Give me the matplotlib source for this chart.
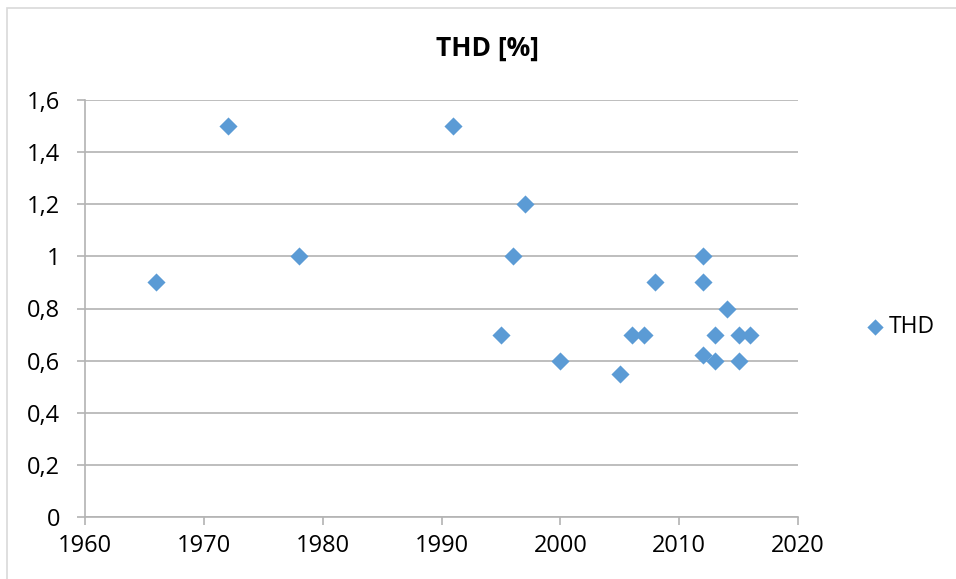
import matplotlib.pyplot as plt
from matplotlib.patches import Rectangle
from matplotlib.ticker import FuncFormatter

YEARS = [1966, 1972, 1978, 1991, 1995, 1996, 1997, 2000, 2005, 2006, 2007,
         2008, 2012, 2012, 2012, 2013, 2013, 2014, 2015, 2015, 2016]
THD   = [0.9, 1.5, 1.0, 1.5, 0.7, 1.0, 1.2, 0.6, 0.55, 0.7, 0.7,
         0.9, 1.0, 0.9, 0.62, 0.7, 0.6, 0.8, 0.7, 0.6, 0.7]
X_TICKS = [1960, 1970, 1980, 1990, 2000, 2010, 2020]
Y_TICKS = [0, 0.2, 0.4, 0.6, 0.8, 1.0, 1.2, 1.4, 1.6]

BLUE = "#5B9BD5"
GRID = "#B3B3B3"
plt.rcParams["font.family"] = ["Open Sans", "DejaVu Sans"]

fig = plt.figure(figsize=(9.56, 5.79), dpi=100)
fig.patches.append(Rectangle((7 / 956, -0.1), 1.2, 1 - 8 / 579 + 0.1,
                             transform=fig.transFigure, fill=False,
                             edgecolor="#D9D9D9", linewidth=1.2))

ax = fig.add_axes([85 / 956, 1 - 517 / 579, (798 - 85) / 956, (517 - 100) / 579])
ax.scatter(YEARS, THD, marker="D", s=85, color=BLUE, zorder=3, label="THD",
           linewidths=0)

ax.set_xlim(1960, 2020)
ax.set_ylim(0, 1.6)
ax.set_xticks(X_TICKS)
ax.set_yticks(Y_TICKS)
ax.yaxis.set_major_formatter(FuncFormatter(lambda v, _: f"{v:g}".replace(".", ",")))
ax.grid(axis="y", color=GRID, linewidth=1.2)
ax.set_axisbelow(True)
for side in ["top", "right"]:
    ax.spines[side].set_visible(False)
for side in ["left", "bottom"]:
    ax.spines[side].set_color(GRID)
    ax.spines[side].set_linewidth(1.2)
ax.tick_params(axis="both", length=6, width=1.2, color=GRID, labelsize=17,
               labelcolor="black")
ax.tick_params(axis="x", pad=6)
ax.tick_params(axis="y", pad=12)

fig.text(488 / 956, 1 - 48 / 579, "THD [%]", ha="center", va="center",
         fontsize=19, fontweight="bold")

fig.legend(loc="center left", bbox_to_anchor=(861 / 956, 1 - 327 / 579),
           frameon=False, fontsize=16.5, handletextpad=0.0, handlelength=1.2,
           markerscale=0.9, borderpad=0, borderaxespad=0)

plt.savefig("out.png", dpi=100)
